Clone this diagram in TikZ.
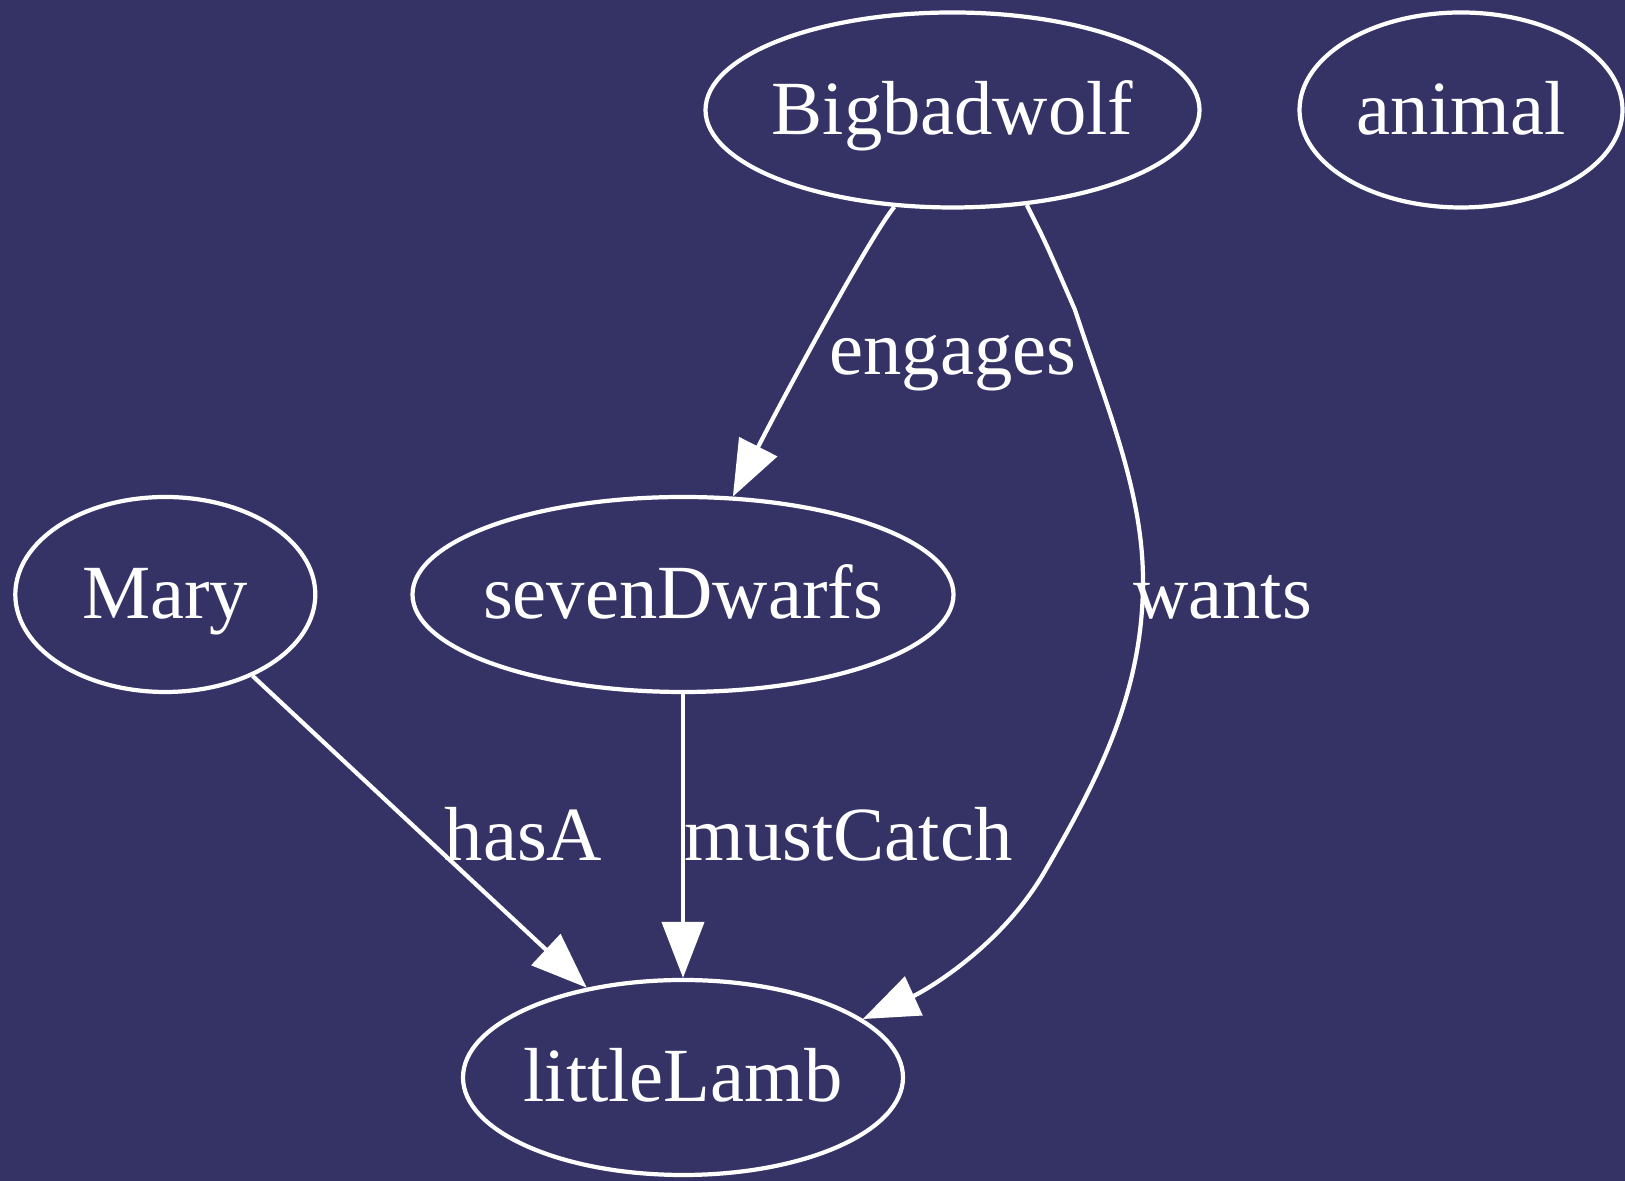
\documentclass[tikz,border=0pt]{standalone}
\usepackage{fontspec}
\setmainfont{Liberation Serif}
\usetikzlibrary{shapes.geometric,arrows.meta}
\definecolor{bgblue}{RGB}{53,51,102}

\begin{document}
\begin{tikzpicture}
    \tikzstyle{ell}=[ellipse, draw=white, line width=1.2pt, inner sep=0pt, minimum height=1.95cm, text=white, font=\fontsize{21.8}{25}\selectfont, text height=0.6cm, text depth=0.11cm]
    \tikzstyle{edge}=[draw=white, line width=1.2pt, -{Triangle[length=5.6mm, width=4.2mm]}]
    \tikzstyle{lbl}=[text=white, anchor=base, inner sep=0pt, font=\fontsize{21.8}{25}\selectfont]

    \fill[bgblue] (0,0) rectangle (16.25,11.81);
    \useasboundingbox (0,0) rectangle (16.25,11.81);

    \node[ell, minimum width=4.94cm] (w) at (9.525,10.71) {\makebox[0pt]{Bigbadwolf}};
    \node[ell, minimum width=3.23cm] (an) at (14.61,10.71) {\makebox[0pt]{animal}};
    \node[ell, minimum width=3.0cm] (m) at (1.653,5.865) {\makebox[0pt]{Mary}};
    \node[ell, minimum width=5.41cm] (d) at (6.83,5.865) {\makebox[0pt]{sevenDwarfs}};
    \node[ell, minimum width=4.40cm] (l) at (6.83,1.035) {\makebox[0pt]{littleLamb}};

    \draw[edge] (w.-121) .. controls (8.671,9.402) and (7.786,7.743) .. (d.63);
    \draw[edge] (w.-52) .. controls (10.45,9.40) .. (10.75,8.71)
        .. controls (11.06,7.76) and (11.43,6.9) .. (11.43,6.0)
        .. controls (11.43,4.9) and (11.00,4.05) .. (10.45,3.1)
        .. controls (10.0,2.32) and (9.224,1.89) .. (l.18);
    \draw[edge] (m) -- (l);
    \draw[edge] (d) -- (l);

    \node[lbl] (eng) at (9.53,8.06) {engages};
    \node[lbl] (wnt) at (12.225,5.62) {wants};
    \node[lbl] (has) at (5.235,3.203) {hasA};
    \node[lbl] (mc) at (8.485,3.203) {mustCatch};
\end{tikzpicture}
\end{document}
